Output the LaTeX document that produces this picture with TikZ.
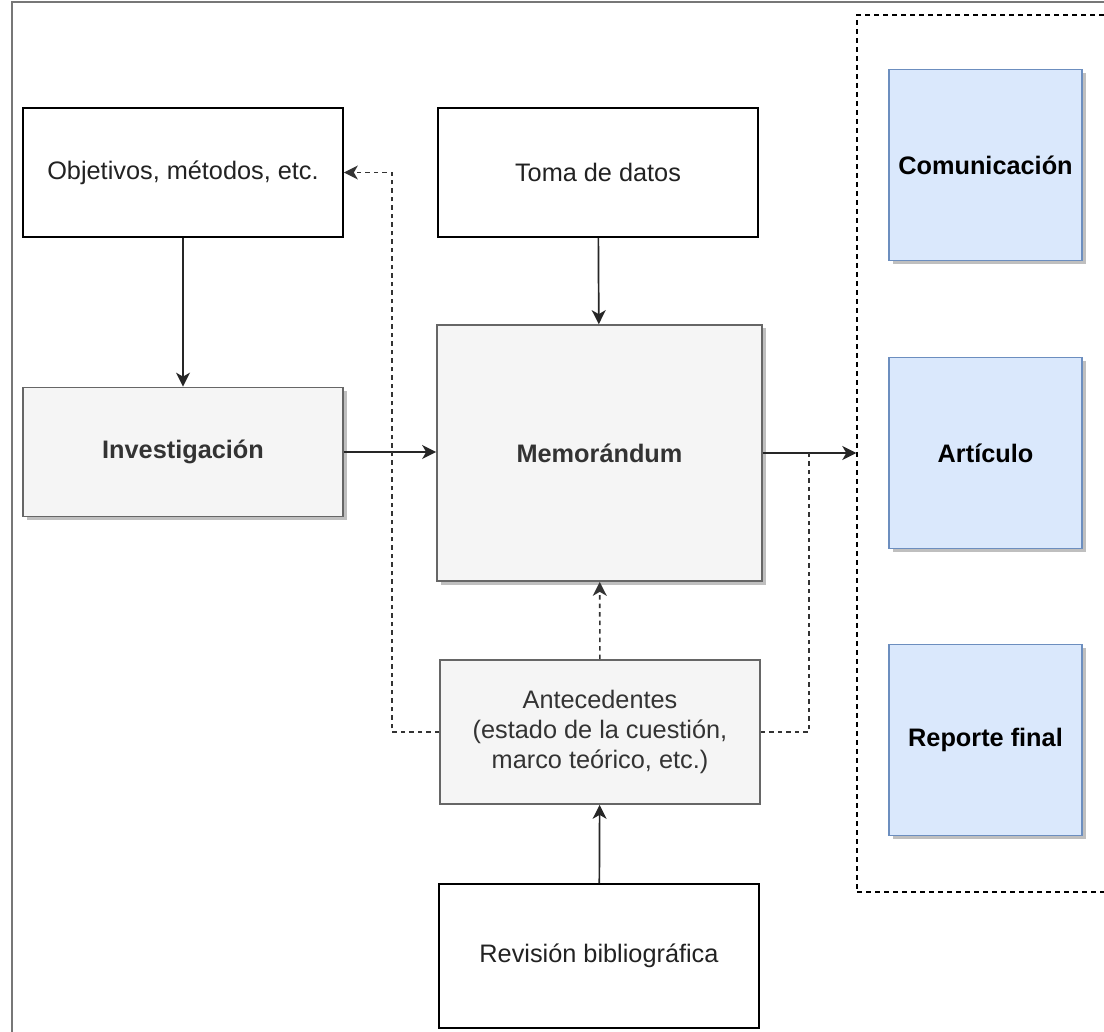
\documentclass[tikz,border=0pt]{standalone}
\usepackage{fontspec}
\setmainfont{Liberation Sans}
\usetikzlibrary{arrows.meta, positioning, shadows, calc}
\definecolor{plainborder}{HTML}{000000}
\definecolor{plaintext}{HTML}{222222}
\definecolor{greybg}{HTML}{F5F5F5}
\definecolor{greyborder}{HTML}{666666}
\definecolor{greytext}{HTML}{333333}
\definecolor{bluebg}{HTML}{DAE8FC}
\definecolor{blueborder}{HTML}{6C8EBF}
\definecolor{framegrey}{HTML}{777777}
\tikzset{
  plainbox/.style={
    draw=plainborder,
    fill=white,
    line width=1.7pt,
    align=center,
    text=plaintext,
    font=\fontsize{25.3}{30}\selectfont,
    inner sep=0pt,
    minimum width=320pt,
    minimum height=129pt
  },
  greybox/.style={
    plainbox,
    draw=greyborder,
    fill=greybg,
    text=greytext
  },
  shadowed/.style={
    drop shadow={shadow xshift=3.5pt, shadow yshift=-3.5pt, fill=black, opacity=0.25}
  },
  outbox/.style={
    plainbox,
    shadowed,
    draw=blueborder,
    fill=bluebg,
    text=black,
    font=\fontsize{25.3}{30}\selectfont\bfseries,
    minimum width=193pt,
    minimum height=191pt
  },
  container/.style={
    draw=black,
    line width=1.4pt,
    dash pattern=on 5pt off 4pt,
    inner sep=0pt
  },
  flowarrow/.style={
    -{Stealth[length=14pt, width=14pt, inset=4pt]},
    line width=1.7pt,
    color=black!85
  },
  dashedline/.style={
    line width=1.6pt,
    color=black!80,
    dash pattern=on 4.5pt off 4pt
  },
  dashedarrow/.style={
    dashedline,
    -{Stealth[length=14pt, width=14pt, inset=4pt]}
  }
}

\begin{document}
\begin{tikzpicture}[x=1pt, y=-1pt]

  \useasboundingbox (0,0) rectangle (1104,1032);
  \clip (0,0) rectangle (1104,1032);
  \draw [framegrey, line width=1.5pt] (12,2) rectangle (1120,1050);

  % Output container
  \node (outs) [container, minimum width=270pt, minimum height=877pt] at (992,453.5) {};

  % Boxes
  \node (obj) [plainbox] at (183,172.5) {Objetivos, métodos, etc.};
  \node (toma) [plainbox] at (598,172.5) {Toma de datos};
  \node (inv) [greybox, shadowed, font=\fontsize{25.3}{30}\selectfont\bfseries] at (183,452) {Investigación};
  \node (memo) [greybox, shadowed, minimum width=325pt, minimum height=256pt, font=\fontsize{25.3}{30}\selectfont\bfseries] at (599.5,453) {Memorándum};
  \node (ante) [greybox, minimum height=144pt] at (600,732) {Antecedentes\\(estado de la cuestión,\\marco teórico, etc.)};
  \node (rev) [plainbox, minimum height=144pt] at (599,956) {Revisión bibliográfica};

  \node (com) [outbox] at (985.5,165) {Comunicación};
  \node (art) [outbox] at (985.5,453) {Artículo};
  \node (rep) [outbox] at (985.5,740) {Reporte final};

  % Connectors
  \draw [flowarrow] (obj) -- (inv);
  \draw [flowarrow] (toma) -- (memo);
  \draw [flowarrow] (inv) -- (inv -| memo.west);
  \draw [flowarrow] (memo.east) -- (memo.east -| outs.west);
  \draw [dashedarrow] (ante) -- (memo);
  \draw [flowarrow] (rev) -- (ante);
  \draw [dashedarrow] (ante.west) -| ([xshift=48pt]obj.east) -- (obj.east);
  \draw [dashedline] (ante.east) -| ([xshift=46pt]memo.east);

\end{tikzpicture}
\end{document}
